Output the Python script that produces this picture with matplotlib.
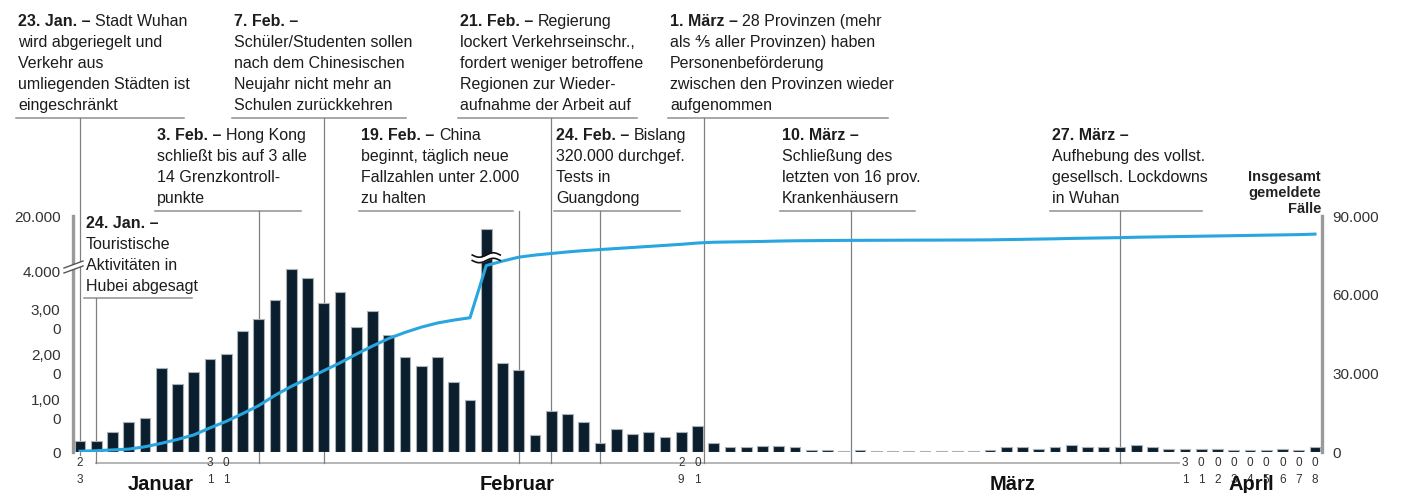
import numpy as np
import matplotlib
matplotlib.use("Agg")
import matplotlib.pyplot as plt

plt.rcParams['font.family'] = ['Liberation Sans', 'DejaVu Sans']

W, H = 1402, 493

# ---------------- data ----------------
day_index = list(range(77))          # 23 Jan ... 8 Apr 2020
daily_new = [250, 250, 450, 675, 750, 1860, 1500, 1785, 2060, 2170,
             2690, 2950, 3380, 4060, 3860, 3320, 3550, 2780, 3130, 2590,
             2120, 1910, 2100, 1560, 1150, 15100, 1970, 1815, 380, 910,
             850, 665, 210, 520, 405, 445, 330, 445, 575, 190,
             110, 110, 140, 140, 100, 40, 40, 30, 35, 30,
             25, 30, 30, 25, 30, 30, 50, 110, 110, 60,
             100, 150, 100, 100, 100, 160, 120, 70, 70, 70,
             70, 50, 50, 35, 70, 50, 100]
total_cases = [300, 500, 800, 1100, 2000, 3300, 4800, 6500, 9200, 11700,
               14600, 17700, 21600, 25000, 28000, 31000, 34000, 37300, 40400, 43300,
               45600, 47600, 49200, 50300, 51200, 71100, 72800, 74300, 75100, 75700,
               76300, 76800, 77200, 77600, 78000, 78400, 78800, 79200, 79700, 80000,
               80100, 80200, 80300, 80450, 80550, 80600, 80650, 80700, 80720, 80740,
               80760, 80780, 80800, 80820, 80840, 80860, 80900, 81000, 81100, 81200,
               81300, 81450, 81550, 81650, 81750, 81900, 82000, 82100, 82200, 82300,
               82400, 82500, 82600, 82700, 82800, 82900, 83100]

left_ticks = [0, 1000, 2000, 3000, 4000, 20000]
left_labels = ["0", "1,00\n0", "2,00\n0", "3,00\n0", "4.000", "20.000"]
right_ticks = [0, 30000, 60000, 90000]
right_labels = ["0", "30.000", "60.000", "90.000"]

date_tick_index = [0, 8, 9, 37, 38, 68, 69, 70, 71, 72, 73, 74, 75, 76]
date_tick_labels = ["23", "31", "01", "29", "01", "31", "01", "02", "03",
                    "04", "05", "06", "07", "08"]

month_names = ["Januar", "Februar", "März", "April"]
month_centers = [4.95, 26.9, 57.4, 72.1]

right_title = "Insgesamt\ngemeldete\nFälle"

# event: (date index, bold head, rest of first line, further lines, text x, first baseline, underline y)
events = [
    (0, "23. Jan. –", "Stadt Wuhan",
     ["wird abgeriegelt und", "Verkehr aus", "umliegenden Städten ist", "eingeschränkt"], 18, 26, 118),
    (15, "7. Feb. –", "",
     ["Schüler/Studenten sollen", "nach dem Chinesischen", "Neujahr nicht mehr an", "Schulen zurückkehren"], 234, 26, 118),
    (29, "21. Feb. –", "Regierung",
     ["lockert Verkehrseinschr.,", "fordert weniger betroffene", "Regionen zur Wieder-", "aufnahme der Arbeit auf"], 460, 26, 118),
    (38.4, "1. März –", "28 Provinzen (mehr",
     ["als ⅘ aller Provinzen) haben", "Personenbeförderung", "zwischen den Provinzen wieder", "aufgenommen"], 670, 26, 118),
    (11, "3. Feb. –", "Hong Kong",
     ["schließt bis auf 3 alle", "14 Grenzkontroll-", "punkte"], 157, 140, 211),
    (27, "19. Feb. –", "China",
     ["beginnt, täglich neue", "Fallzahlen unter 2.000", "zu halten"], 361, 140, 211),
    (32, "24. Feb. –", "Bislang",
     ["320.000 durchgef.", "Tests in", "Guangdong"], 556, 140, 211),
    (47.45, "10. März –", "",
     ["Schließung des", "letzten von 16 prov.", "Krankenhäusern"], 782, 140, 211),
    (64, "27. März –", "",
     ["Aufhebung des vollst.", "gesellsch. Lockdowns", "in Wuhan"], 1052, 140, 211),
    (1, "24. Jan. –", "",
     ["Touristische", "Aktivitäten in", "Hubei abgesagt"], 86, 228, 298),
]

# ---------------- styles ----------------
BAR_C = "#0b1e2d"
LINE_C = "#29a5df"
GRID_C = "#8f8f8f"
TXT_C = "#1c1c1c"
LABEL_C = "#333333"
BREAK = 4300.0
K = 0.06

def fwd(v):
    v = np.asarray(v, dtype=float)
    return np.where(v <= BREAK, v, BREAK + (v - BREAK) * K)

def inv(u):
    u = np.asarray(u, dtype=float)
    return np.where(u <= BREAK, u, BREAK + (u - BREAK) / K)

fig = plt.figure(figsize=(W / 100, H / 100), dpi=100)
fig.patch.set_facecolor("white")

ax_l, ax_r, ax_b, ax_t = 73, 1322, 452, 216
ax = fig.add_axes([ax_l / W, (H - ax_b) / H, (ax_r - ax_l) / W, (ax_b - ax_t) / H])
ax.set_yscale("function", functions=(fwd, inv))
ax.set_ylim(0, 20000)
ax.set_xlim(-0.43, 76.43)
ax.bar(day_index, daily_new, width=0.66, color=BAR_C, edgecolor="#a9b0b6",
       linewidth=0.8, zorder=2)
ax.set_yticks(left_ticks)
ax.set_yticklabels(left_labels, fontsize=11, color=LABEL_C, linespacing=1.4)
ax.tick_params(axis="y", length=0, pad=9)
ax.set_xticks([])
for s in ["top", "bottom", "right"]:
    ax.spines[s].set_visible(False)
ax.spines["left"].set_color("#9a9a9a")
ax.spines["left"].set_linewidth(2.4)
ax.patch.set_alpha(0)

ax2 = ax.twinx()
ax2.set_ylim(0, 90000)
ax2.plot(day_index, total_cases, color=LINE_C, lw=2.2, solid_joinstyle="round", zorder=3)
ax2.set_yticks(right_ticks)
ax2.set_yticklabels(right_labels, fontsize=11, color=LABEL_C)
ax2.tick_params(axis="y", length=0, pad=7.5)
for s in ["top", "bottom", "left"]:
    ax2.spines[s].set_visible(False)
ax2.spines["right"].set_color("#9a9a9a")
ax2.spines["right"].set_linewidth(2.4)
ax2.patch.set_alpha(0)

# overlays in pixel coordinates (y from top)
ov = fig.add_axes([0, 0, 1, 1], zorder=-1)
ov.set_xlim(0, W)
ov.set_ylim(H, 0)
ov.axis("off")
ov2 = fig.add_axes([0, 0, 1, 1], zorder=5)
ov2.set_xlim(0, W)
ov2.set_ylim(H, 0)
ov2.axis("off")
ov2.patch.set_alpha(0)

def px(idx):
    return ax.transData.transform((idx, 0))[0]

renderer = fig.canvas.get_renderer()

# timeline line along the bottom
TL_Y = 463
ov.plot([px(1), px(67.6)], [TL_Y, TL_Y], color="#b0b0b0", lw=1.3)

# annotations
LS = 21
for idx, head, rest, lines, tx, by, uy in events:
    t = ov.text(tx, by, head, fontsize=11.5, fontweight="bold", color=TXT_C, va="baseline", ha="left")
    bb = t.get_window_extent(renderer)
    widths = [bb.width]
    if rest:
        t2 = ov.text(tx + bb.width + 4.5, by, rest, fontsize=11.5, color=TXT_C, va="baseline", ha="left")
        widths.append(bb.width + 4.5 + t2.get_window_extent(renderer).width)
    for k, ln in enumerate(lines):
        t3 = ov.text(tx, by + LS * (k + 1), ln, fontsize=11.5, color=TXT_C, va="baseline", ha="left")
        widths.append(t3.get_window_extent(renderer).width)
    ov.plot([tx - 2, tx + max(widths) - 6], [uy, uy], color=GRID_C, lw=1.1)
    x = px(idx)
    y_end = 455 if idx == 0 else TL_Y
    ov.plot([x, x], [uy, y_end], color="#808080", lw=0.9)

# date tick labels (stacked digits)
for idx, lab in zip(date_tick_index, date_tick_labels):
    x = px(idx)
    ov2.text(x, 463, lab[0], fontsize=8.5, color=LABEL_C, ha="center", va="center")
    ov2.text(x, 480, lab[1], fontsize=8.5, color=LABEL_C, ha="center", va="center")

for name, c in zip(month_names, month_centers):
    ov2.text(px(c), 484, name, fontsize=14.5, fontweight="bold", color="#111111",
             ha="center", va="center")

ov2.text(1321, 213, right_title, fontsize=10.5, fontweight="bold", color="#222222",
         ha="right", va="baseline", linespacing=1.2)

# break marker on the tall bar
big = int(np.argmax(daily_new))
xc = px(big)
xs = np.linspace(xc - 14, xc + 14, 60)
wave = 2.2 * np.sin((xs - xc) / 28 * 2 * np.pi)
y1 = 255 - wave
y2 = 260.5 - wave
ov2.fill_between(xs, y1, y2, color="white", lw=0)
ov2.plot(xs, y1, color="#111111", lw=1.2)
ov2.plot(xs, y2, color="#111111", lw=1.2)

# break marker on the left axis
bx = np.array([64, 83])
ov2.fill([64, 83, 83, 64], [268, 261, 266, 273], color="white", lw=0)
ov2.plot(bx, [268, 261], color="#555555", lw=1.0)
ov2.plot(bx, [273, 266], color="#555555", lw=1.0)

fig.savefig("out.png", dpi=100, facecolor="white")
